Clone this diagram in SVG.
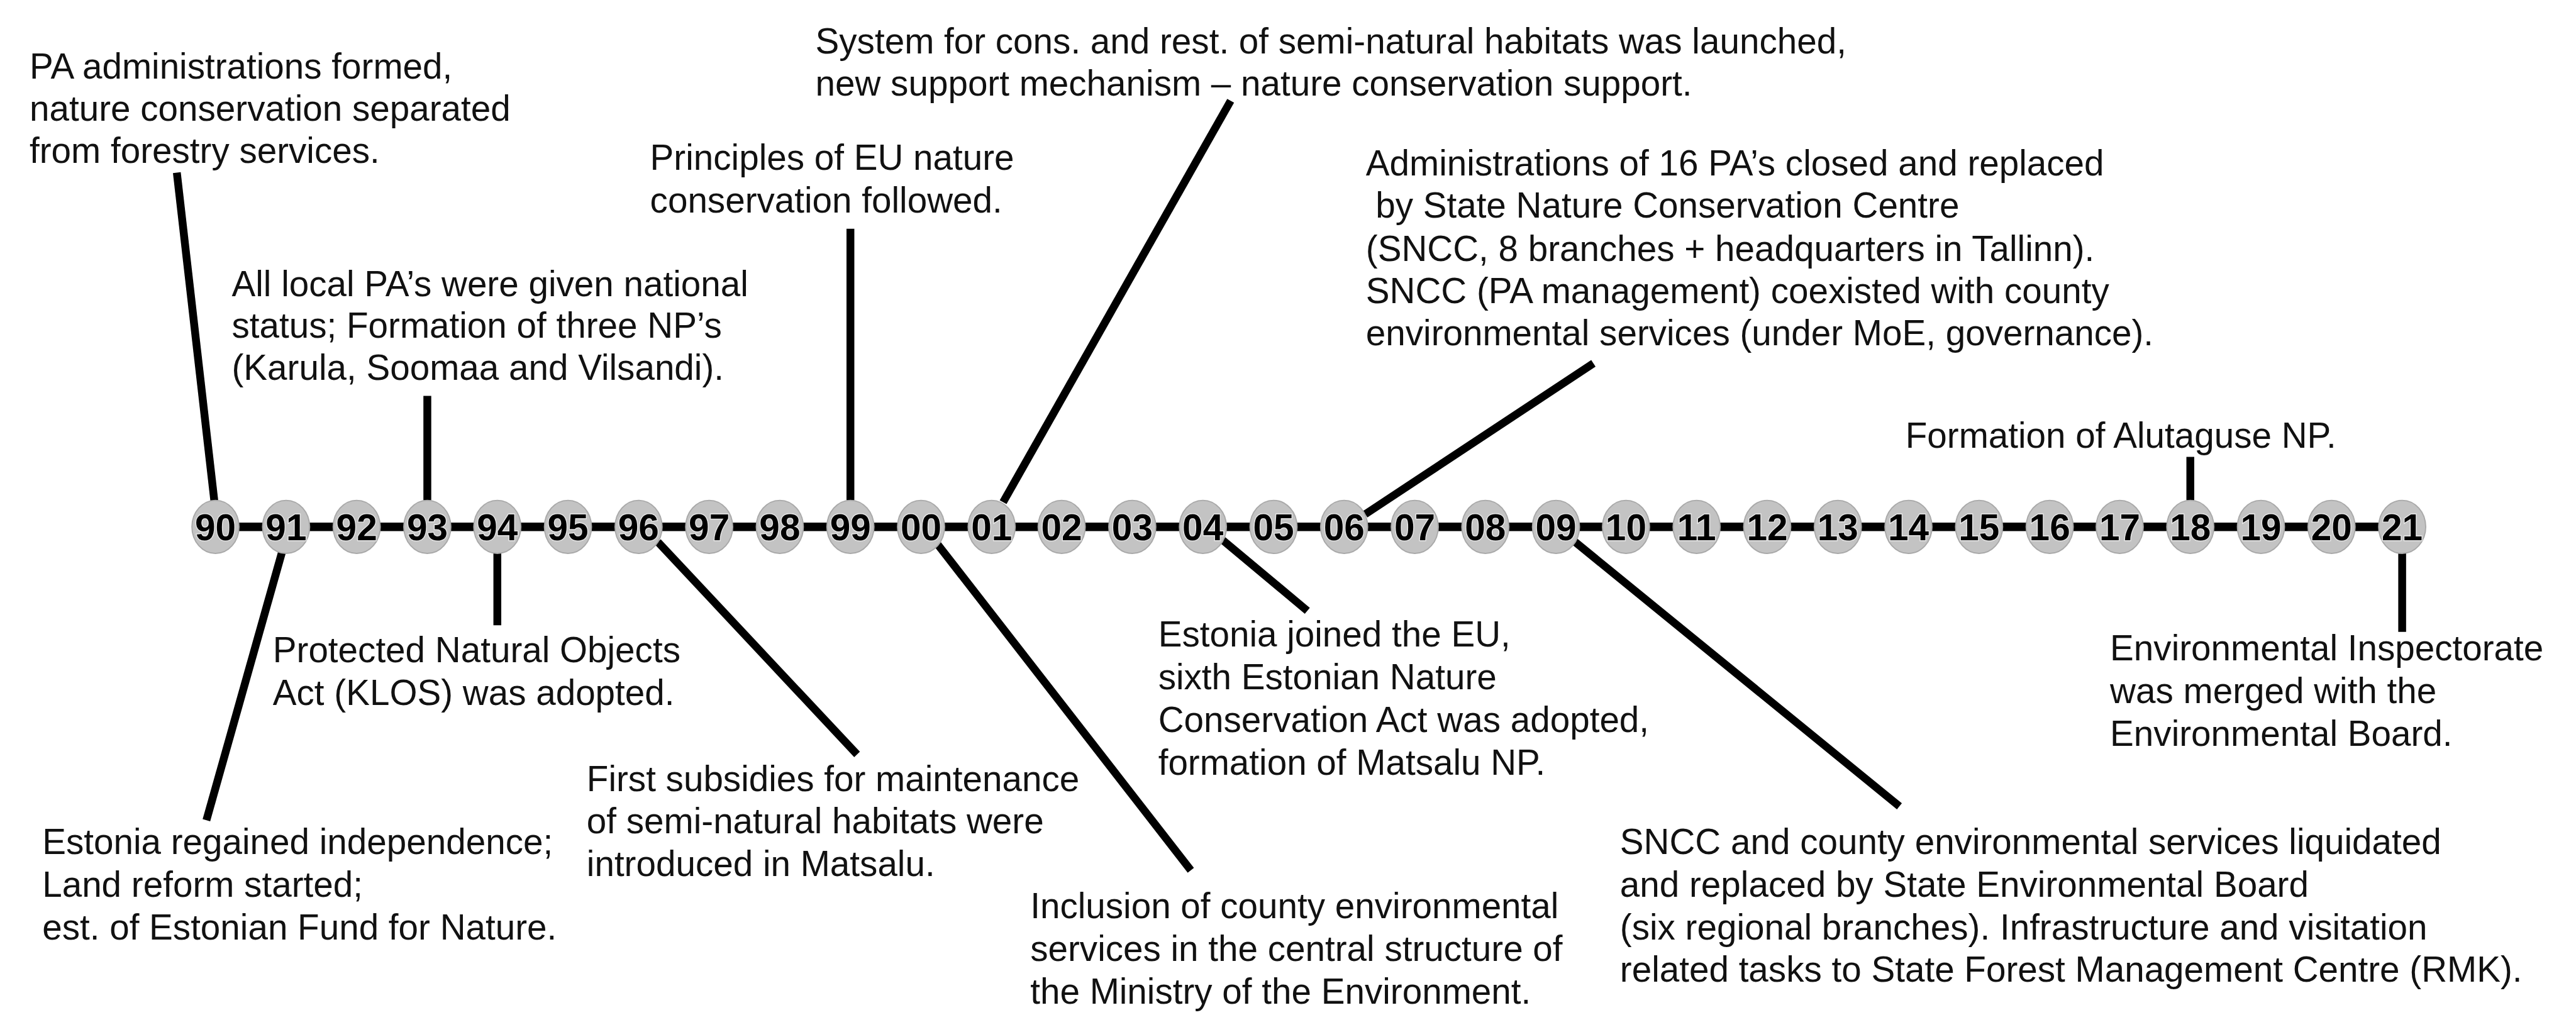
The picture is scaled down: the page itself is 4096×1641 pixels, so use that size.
<svg xmlns="http://www.w3.org/2000/svg" width="4096" height="1641" viewBox="0 0 4096 1641">
<style>
.t{font-family:"Liberation Sans",Arial,sans-serif;font-size:59px;fill:#111}
.d{font-family:"Liberation Sans",Arial,sans-serif;font-size:61px;font-weight:bold;fill:#000;text-anchor:middle;paint-order:stroke;stroke:#e6e6e6;stroke-width:3px}
.c{fill:#c3c3c3;stroke:#a9a9a9;stroke-width:2}
.ln{stroke:#000;stroke-width:13;fill:none}
</style>
<rect width="4096" height="1641" fill="#fff"/>
<g transform="scale(0.9597)">
<g id="timeline-bar"><line x1="357" y1="873" x2="3980" y2="873" stroke="#000" stroke-width="14"/></g>
<g id="connectors" class="ln">
<line x1="293" y1="286" x2="355" y2="829"/>
<line x1="708" y1="656" x2="708" y2="829"/>
<line x1="1409" y1="379" x2="1409" y2="829"/>
<line x1="2039" y1="167" x2="1662" y2="832"/>
<line x1="2640" y1="602" x2="2262" y2="852"/>
<line x1="3629" y1="757" x2="3629" y2="829"/>
<line x1="470" y1="905" x2="342" y2="1359"/>
<line x1="824" y1="916" x2="824" y2="1036"/>
<line x1="1090" y1="898" x2="1420" y2="1250"/>
<line x1="1552" y1="900" x2="1973" y2="1442"/>
<line x1="2026" y1="895" x2="2166" y2="1012"/>
<line x1="2606" y1="895" x2="3147" y2="1336"/>
<line x1="3980" y1="916" x2="3980" y2="1047"/>
</g>
<g id="years">
<g id="y90"><ellipse class="c" cx="357" cy="873" rx="39" ry="44"/><text class="d" x="357" y="895">90</text></g>
<g id="y91"><ellipse class="c" cx="474" cy="873" rx="39" ry="44"/><text class="d" x="474" y="895">91</text></g>
<g id="y92"><ellipse class="c" cx="591" cy="873" rx="39" ry="44"/><text class="d" x="591" y="895">92</text></g>
<g id="y93"><ellipse class="c" cx="708" cy="873" rx="39" ry="44"/><text class="d" x="708" y="895">93</text></g>
<g id="y94"><ellipse class="c" cx="824" cy="873" rx="39" ry="44"/><text class="d" x="824" y="895">94</text></g>
<g id="y95"><ellipse class="c" cx="941" cy="873" rx="39" ry="44"/><text class="d" x="941" y="895">95</text></g>
<g id="y96"><ellipse class="c" cx="1058" cy="873" rx="39" ry="44"/><text class="d" x="1058" y="895">96</text></g>
<g id="y97"><ellipse class="c" cx="1175" cy="873" rx="39" ry="44"/><text class="d" x="1175" y="895">97</text></g>
<g id="y98"><ellipse class="c" cx="1292" cy="873" rx="39" ry="44"/><text class="d" x="1292" y="895">98</text></g>
<g id="y99"><ellipse class="c" cx="1409" cy="873" rx="39" ry="44"/><text class="d" x="1409" y="895">99</text></g>
<g id="y00"><ellipse class="c" cx="1526" cy="873" rx="39" ry="44"/><text class="d" x="1526" y="895">00</text></g>
<g id="y01"><ellipse class="c" cx="1643" cy="873" rx="39" ry="44"/><text class="d" x="1643" y="895">01</text></g>
<g id="y02"><ellipse class="c" cx="1759" cy="873" rx="39" ry="44"/><text class="d" x="1759" y="895">02</text></g>
<g id="y03"><ellipse class="c" cx="1876" cy="873" rx="39" ry="44"/><text class="d" x="1876" y="895">03</text></g>
<g id="y04"><ellipse class="c" cx="1993" cy="873" rx="39" ry="44"/><text class="d" x="1993" y="895">04</text></g>
<g id="y05"><ellipse class="c" cx="2110" cy="873" rx="39" ry="44"/><text class="d" x="2110" y="895">05</text></g>
<g id="y06"><ellipse class="c" cx="2227" cy="873" rx="39" ry="44"/><text class="d" x="2227" y="895">06</text></g>
<g id="y07"><ellipse class="c" cx="2344" cy="873" rx="39" ry="44"/><text class="d" x="2344" y="895">07</text></g>
<g id="y08"><ellipse class="c" cx="2461" cy="873" rx="39" ry="44"/><text class="d" x="2461" y="895">08</text></g>
<g id="y09"><ellipse class="c" cx="2578" cy="873" rx="39" ry="44"/><text class="d" x="2578" y="895">09</text></g>
<g id="y10"><ellipse class="c" cx="2694" cy="873" rx="39" ry="44"/><text class="d" x="2694" y="895">10</text></g>
<g id="y11"><ellipse class="c" cx="2811" cy="873" rx="39" ry="44"/><text class="d" x="2811" y="895">11</text></g>
<g id="y12"><ellipse class="c" cx="2928" cy="873" rx="39" ry="44"/><text class="d" x="2928" y="895">12</text></g>
<g id="y13"><ellipse class="c" cx="3045" cy="873" rx="39" ry="44"/><text class="d" x="3045" y="895">13</text></g>
<g id="y14"><ellipse class="c" cx="3162" cy="873" rx="39" ry="44"/><text class="d" x="3162" y="895">14</text></g>
<g id="y15"><ellipse class="c" cx="3279" cy="873" rx="39" ry="44"/><text class="d" x="3279" y="895">15</text></g>
<g id="y16"><ellipse class="c" cx="3396" cy="873" rx="39" ry="44"/><text class="d" x="3396" y="895">16</text></g>
<g id="y17"><ellipse class="c" cx="3512" cy="873" rx="39" ry="44"/><text class="d" x="3512" y="895">17</text></g>
<g id="y18"><ellipse class="c" cx="3629" cy="873" rx="39" ry="44"/><text class="d" x="3629" y="895">18</text></g>
<g id="y19"><ellipse class="c" cx="3746" cy="873" rx="39" ry="44"/><text class="d" x="3746" y="895">19</text></g>
<g id="y20"><ellipse class="c" cx="3863" cy="873" rx="39" ry="44"/><text class="d" x="3863" y="895">20</text></g>
<g id="y21"><ellipse class="c" cx="3980" cy="873" rx="39" ry="44"/><text class="d" x="3980" y="895">21</text></g>
</g>
<g id="ev1990"><text class="t"><tspan x="49" y="130">PA administrations formed,</tspan><tspan x="49" y="200">nature conservation separated</tspan><tspan x="49" y="270">from forestry services.</tspan></text></g>
<g id="ev1993"><text class="t"><tspan x="384" y="491">All local PA’s were given national</tspan><tspan x="384" y="560">status; Formation of three NP’s</tspan><tspan x="384" y="629">(Karula, Soomaa and Vilsandi).</tspan></text></g>
<g id="ev1999"><text class="t"><tspan x="1077" y="281">Principles of EU nature</tspan><tspan x="1077" y="352">conservation followed.</tspan></text></g>
<g id="ev2001"><text class="t"><tspan x="1351" y="89">System for cons. and rest. of semi-natural habitats was launched,</tspan><tspan x="1351" y="158">new support mechanism – nature conservation support.</tspan></text></g>
<g id="ev2006"><text class="t"><tspan x="2263" y="291">Administrations of 16 PA’s closed and replaced</tspan><tspan x="2279" y="361">by State Nature Conservation Centre</tspan><tspan x="2263" y="432">(SNCC, 8 branches + headquarters in Tallinn).</tspan><tspan x="2263" y="502">SNCC (PA management) coexisted with county</tspan><tspan x="2263" y="572">environmental services (under MoE, governance).</tspan></text></g>
<g id="ev2018"><text class="t"><tspan x="3157" y="742">Formation of Alutaguse NP.</tspan></text></g>
<g id="ev1991"><text class="t"><tspan x="70" y="1415">Estonia regained independence;</tspan><tspan x="70" y="1486">Land reform started;</tspan><tspan x="70" y="1557">est. of Estonian Fund for Nature.</tspan></text></g>
<g id="ev1994"><text class="t"><tspan x="452" y="1097">Protected Natural Objects</tspan><tspan x="452" y="1168">Act (KLOS) was adopted.</tspan></text></g>
<g id="ev1996"><text class="t"><tspan x="972" y="1311">First subsidies for maintenance</tspan><tspan x="972" y="1381">of semi-natural habitats were</tspan><tspan x="972" y="1452">introduced in Matsalu.</tspan></text></g>
<g id="ev2000"><text class="t"><tspan x="1707" y="1521">Inclusion of county environmental</tspan><tspan x="1707" y="1592">services in the central structure of</tspan><tspan x="1707" y="1663">the Ministry of the Environment.</tspan></text></g>
<g id="ev2004"><text class="t"><tspan x="1919" y="1071">Estonia joined the EU,</tspan><tspan x="1919" y="1142">sixth Estonian Nature</tspan><tspan x="1919" y="1213">Conservation Act was adopted,</tspan><tspan x="1919" y="1284">formation of Matsalu NP.</tspan></text></g>
<g id="ev2009"><text class="t"><tspan x="2684" y="1415">SNCC and county environmental services liquidated</tspan><tspan x="2684" y="1486">and replaced by State Environmental Board</tspan><tspan x="2684" y="1557">(six regional branches). Infrastructure and visitation</tspan><tspan x="2684" y="1627">related tasks to State Forest Management Centre (RMK).</tspan></text></g>
<g id="ev2021"><text class="t"><tspan x="3496" y="1094">Environmental Inspectorate</tspan><tspan x="3496" y="1165">was merged with the</tspan><tspan x="3496" y="1236">Environmental Board.</tspan></text></g>
</g>
</svg>
